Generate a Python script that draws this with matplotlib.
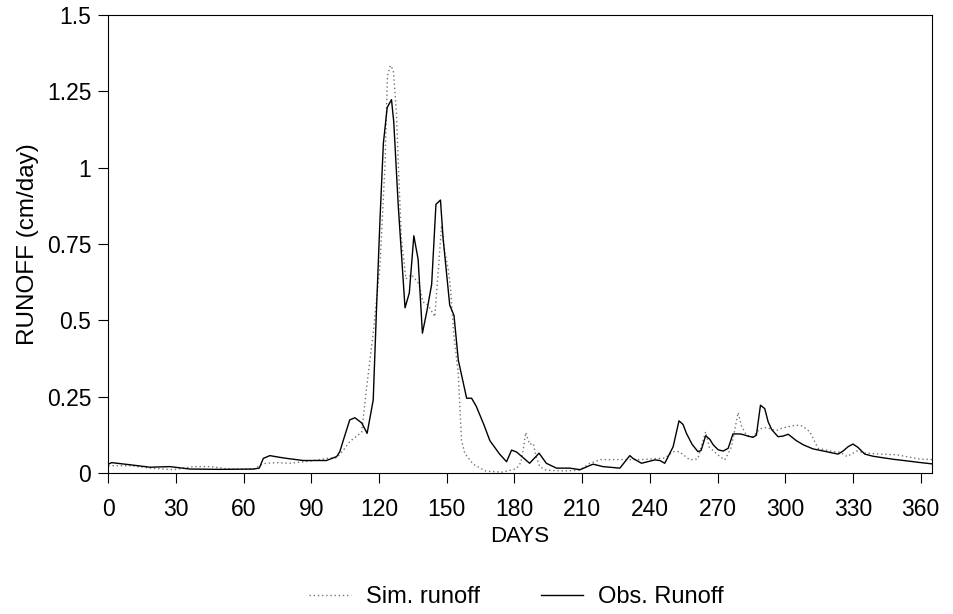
import matplotlib
matplotlib.use('Agg')
import matplotlib.pyplot as plt

# datos (dia, escurrimiento cm/dia)
obs_days = [0, 1.5, 9.7, 18.5, 27.3, 36.2, 49.5, 64.2, 66.9, 68.7,
            71.6, 75.5, 79, 86.4, 96.7, 101.2, 102.6, 104.1, 107, 109.3,
            112.3, 114.7, 117.4, 118.9, 120.4, 121.9, 123.6, 125.5, 126.5, 128.5,
            131.5, 133.4, 135.4, 137.3, 139.2, 141.1, 143.3, 145.2, 147.2, 148.4,
            151.3, 153.2, 155.1, 158.8, 161, 163.1, 166.4, 169.1, 173.4, 176.5,
            178.7, 180.9, 186.7, 190.9, 194.1, 198.6, 204.5, 209.1, 214.8, 219.2,
            226.7, 231.1, 232.5, 236.3, 242.2, 244.4, 246.6, 250.3, 252.9, 254.7,
            256.2, 258.7, 261.3, 262.7, 264.7, 266.5, 268.1, 270.3, 272.5, 274.7,
            276.8, 279.8, 281.3, 283.4, 285.7, 287.2, 289, 290.9, 292.4, 294,
            296.8, 299, 301.3, 304.9, 308.1, 312.3, 318.2, 323.4, 325.6, 327.8,
            330, 332.2, 335.2, 338.9, 343.3, 347.9, 353.6, 359, 365]
obs_vals = [0.029, 0.034, 0.027, 0.019, 0.021, 0.013, 0.012, 0.013, 0.016, 0.048,
            0.057, 0.052, 0.048, 0.041, 0.041, 0.054, 0.07, 0.106, 0.174, 0.181,
            0.164, 0.13, 0.239, 0.545, 0.83, 1.08, 1.197, 1.223, 1.15, 0.875,
            0.541, 0.59, 0.777, 0.70, 0.458, 0.527, 0.618, 0.88, 0.894, 0.766,
            0.55, 0.516, 0.37, 0.245, 0.245, 0.218, 0.159, 0.106, 0.062, 0.037,
            0.075, 0.069, 0.032, 0.065, 0.032, 0.016, 0.016, 0.011, 0.029, 0.021,
            0.016, 0.057, 0.048, 0.032, 0.043, 0.041, 0.032, 0.086, 0.171, 0.159,
            0.13, 0.094, 0.07, 0.074, 0.122, 0.111, 0.092, 0.076, 0.072, 0.081,
            0.128, 0.128, 0.126, 0.121, 0.117, 0.124, 0.222, 0.211, 0.168, 0.142,
            0.119, 0.121, 0.127, 0.106, 0.092, 0.079, 0.07, 0.062, 0.072, 0.086,
            0.095, 0.084, 0.062, 0.055, 0.05, 0.045, 0.04, 0.035, 0.03]

sim_days = [0, 1.5, 9.7, 18.5, 28.8, 37.7, 45.2, 52.4, 58.4, 64.5,
            68.7, 74.6, 80.5, 89.4, 96.8, 101.2, 104.1, 107, 112.3, 114.5,
            117.4, 120.4, 122.6, 123.7, 125, 126.3, 127.7, 128.5, 129.9, 131.9,
            134.3, 135.9, 137.6, 139.5, 141.7, 144.7, 146.2, 147.7, 149.2, 150.6,
            151.6, 153.1, 155.1, 156.5, 158, 161.7, 167.4, 174.8, 180.8, 182.8,
            183.8, 185, 186.7, 188.3, 189.6, 191.2, 194.1, 201.7, 208.7, 213.4,
            218.3, 226.7, 236, 246.6, 250.3, 253.1, 257.7, 261.2, 264.7, 266.4,
            270.2, 273.2, 276.1, 279.1, 280.6, 282.8, 285.7, 288.6, 291.6, 296,
            298.9, 304.9, 307.6, 310.9, 314.5, 321.1, 324.3, 327.4, 331.6, 334.9,
            341.9, 349.2, 359.5, 365]
sim_vals = [0.024, 0.024, 0.024, 0.016, 0.011, 0.021, 0.021, 0.014, 0.012, 0.013,
            0.031, 0.034, 0.032, 0.039, 0.048, 0.05, 0.074, 0.103, 0.134, 0.282,
            0.458, 0.68, 1.005, 1.30, 1.335, 1.32, 1.18, 1.016, 0.766, 0.636,
            0.65, 0.636, 0.62, 0.56, 0.55, 0.512, 0.66, 0.81, 0.72, 0.67,
            0.61, 0.456, 0.325, 0.108, 0.064, 0.029, 0.006, 0.003, 0.014, 0.034,
            0.074, 0.133, 0.094, 0.097, 0.054, 0.021, 0.009, 0.007, 0.009, 0.032,
            0.044, 0.044, 0.044, 0.049, 0.07, 0.07, 0.043, 0.046, 0.135, 0.084,
            0.059, 0.043, 0.084, 0.198, 0.154, 0.124, 0.119, 0.144, 0.149, 0.139,
            0.148, 0.157, 0.154, 0.135, 0.081, 0.07, 0.068, 0.054, 0.072, 0.066,
            0.062, 0.06, 0.046, 0.044]

x_ticks = [0, 30, 60, 90, 120, 150, 180, 210, 240, 270, 300, 330, 360]
y_ticks = [0, 0.25, 0.5, 0.75, 1, 1.25, 1.5]
y_tick_labels = ['0', '0.25', '0.5', '0.75', '1', '1.25', '1.5']

plt.rcParams['font.family'] = ['Liberation Sans', 'DejaVu Sans']

fig = plt.figure(figsize=(9.54, 6.14), dpi=100)
ax = fig.add_axes([0.1135, 0.2296, 0.8634, 0.7459])

sim_line, = ax.plot(sim_days, sim_vals, color='0.45', lw=1.0, linestyle=(0, (1, 2)),
                    label='Sim. runoff')
obs_line, = ax.plot(obs_days, obs_vals, color='black', lw=1.0, label='Obs. Runoff')

ax.set_xlim(0, 365)
ax.set_ylim(0, 1.5)
ax.set_xticks(x_ticks)
ax.set_yticks(y_ticks)
ax.set_yticklabels(y_tick_labels)
ax.tick_params(direction='out', length=7.2, width=0.8, labelsize=16.5)
ax.tick_params(axis='x', pad=10.5)
ax.tick_params(axis='y', pad=5)
ax.set_xlabel('DAYS', fontsize=16, labelpad=4)
ax.set_ylabel('RUNOFF (cm/day)', fontsize=17.5, labelpad=6)
for s in ax.spines.values():
    s.set_linewidth(0.8)

fig.legend(handles=[sim_line, obs_line], loc='center', bbox_to_anchor=(0.541, 0.027),
           ncol=2, frameon=False, fontsize=17, handlelength=1.8, handletextpad=0.6,
           columnspacing=2.6)

plt.savefig('out.png', dpi=100)
